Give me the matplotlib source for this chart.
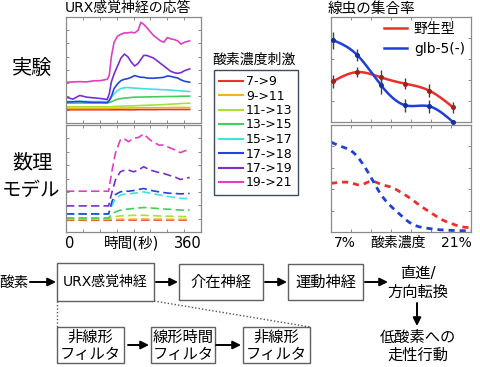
import numpy as np
import matplotlib
matplotlib.use("Agg")
import matplotlib.pyplot as plt
from matplotlib.patches import Rectangle
from matplotlib.lines import Line2D

plt.rcParams['font.family'] = ['DejaVu Sans', 'Noto Sans CJK JP']

# ---------------- data ----------------
stim_labels = ["7->9", "9->11", "11->13", "13->15", "15->17", "17->18", "17->19", "19->21"]
stim_colors = ["#e8302c", "#f2b21c", "#a6e03a", "#3fd060", "#46e0e0", "#2343dc", "#7a2ecf", "#e03ec4"]

exp_t = [0, 20, 40, 60, 80, 100, 120, 126, 132, 140, 150, 160, 170, 180, 190, 200, 210, 218,
         226, 235, 245, 255, 265, 275, 285, 295, 305, 315, 325, 335, 345, 360]
exp_red = [1.0, 1.0, 1.0, 1.0, 1.0, 1.0, 1.0, 1.0, 1.0, 1.0, 1.0, 1.0, 1.0, 1.0, 1.0, 1.0, 1.01, 1.01,
           1.01, 1.01, 1.01, 1.01, 1.01, 1.02, 1.02, 1.02, 1.02, 1.02, 1.02, 1.02, 1.02, 1.02]
exp_orange = [1.1, 1.1, 1.1, 1.1, 1.1, 1.1, 1.1, 1.1, 1.11, 1.12, 1.12, 1.13, 1.13, 1.13, 1.14, 1.14, 1.14, 1.14,
              1.15, 1.15, 1.15, 1.15, 1.15, 1.16, 1.16, 1.16, 1.16, 1.17, 1.17, 1.17, 1.17, 1.17]
exp_ygreen = [1.22, 1.22, 1.22, 1.22, 1.22, 1.22, 1.22, 1.22, 1.23, 1.25, 1.26, 1.27, 1.28, 1.29, 1.29, 1.3, 1.31, 1.32,
              1.33, 1.34, 1.35, 1.36, 1.37, 1.38, 1.39, 1.41, 1.42, 1.44, 1.45, 1.47, 1.48, 1.5]
exp_green = [1.5, 1.5, 1.51, 1.5, 1.51, 1.52, 1.52, 1.55, 1.6, 1.7, 1.8, 1.84, 1.88, 1.9, 1.93, 1.95, 1.95, 1.96,
             1.96, 1.97, 1.97, 1.98, 1.98, 1.99, 1.99, 2.0, 2.0, 2.0, 2.01, 2.02, 2.02, 2.03]
exp_cyan = [1.63, 1.62, 1.64, 1.63, 1.62, 1.62, 1.62, 1.7, 1.95, 2.2, 2.45, 2.6, 2.66, 2.68, 2.65, 2.63, 2.62, 2.6,
            2.58, 2.58, 2.56, 2.55, 2.54, 2.52, 2.51, 2.5, 2.48, 2.46, 2.44, 2.42, 2.4, 2.38]
exp_blue = [1.58, 1.6, 1.62, 1.58, 1.55, 1.55, 1.53, 1.7, 2.0, 2.6, 2.95, 3.2, 3.3, 3.35, 3.45, 3.58, 3.5, 3.45,
            3.45, 3.4, 3.38, 3.38, 3.4, 3.42, 3.45, 3.55, 3.52, 3.45, 3.4, 3.25, 3.15, 3.08]
exp_purple = [1.95, 1.8, 2.08, 1.95, 1.9, 1.85, 1.78, 2.2, 3.1, 3.7, 4.3, 4.9, 5.2, 5.0, 4.6, 4.3, 4.5, 4.8,
              5.1, 5.1, 5.0, 4.9, 4.7, 4.5, 4.3, 4.1, 3.9, 3.8, 3.75, 3.8, 3.95, 4.08]
exp_magenta = [3.08, 3.1, 3.12, 3.1, 3.18, 3.2, 3.3, 3.6, 5.0, 6.1, 6.55, 6.7, 6.8, 6.8, 6.85, 6.8, 7.0, 7.6,
               7.45, 7.2, 6.9, 6.6, 6.4, 6.2, 6.1, 6.45, 6.35, 6.3, 6.2, 5.95, 6.1, 6.2]

model_t = [0, 124, 134, 144, 158, 168, 182, 197, 212, 226, 245, 270, 284, 299, 318, 333, 347, 360]
mod_red = [0.88, 0.88, 0.89, 0.9, 0.9, 0.9, 0.9, 0.9, 0.9, 0.9, 0.9, 0.9, 0.9, 0.9, 0.9, 0.9, 0.9, 0.9]
mod_orange = [0.93, 0.93, 0.94, 0.95, 0.95, 0.96, 0.96, 0.96, 0.96, 0.97, 0.96, 0.96, 0.96, 0.95, 0.95, 0.95, 0.95, 0.95]
mod_ygreen = [0.98, 0.98, 1.1, 1.16, 1.2, 1.22, 1.23, 1.24, 1.25, 1.25, 1.23, 1.2, 1.19, 1.18, 1.17, 1.16, 1.15, 1.15]
mod_green = [1.05, 1.05, 1.35, 1.5, 1.63, 1.68, 1.72, 1.76, 1.8, 1.83, 1.8, 1.75, 1.72, 1.7, 1.67, 1.64, 1.63, 1.63]
mod_cyan = [1.35, 1.35, 2.0, 2.5, 2.75, 2.82, 2.85, 2.9, 2.95, 3.0, 2.9, 2.78, 2.72, 2.65, 2.58, 2.52, 2.5, 2.5]
mod_blue = [1.35, 1.35, 2.3, 2.8, 3.0, 3.05, 3.05, 3.1, 3.18, 3.25, 3.12, 3.0, 2.95, 2.9, 2.88, 2.85, 2.87, 2.88]
mod_purple = [1.95, 1.95, 3.0, 3.9, 4.5, 4.6, 4.63, 4.5, 4.65, 4.88, 4.63, 4.45, 4.38, 4.25, 4.1, 3.93, 4.0, 4.08]
mod_magenta = [3.05, 3.05, 4.6, 5.9, 6.88, 7.0, 6.75, 7.0, 7.08, 7.33, 6.88, 6.5, 6.5, 6.33, 6.13, 5.93, 6.08, 6.18]

o2_x = [7.2, 9.6, 12.0, 14.4, 16.8, 19.2]
wt_y = [0.387, 0.475, 0.425, 0.365, 0.30, 0.14]
wt_err = [0.06, 0.05, 0.07, 0.05, 0.06, 0.05]
glb_y = [0.78, 0.64, 0.35, 0.16, 0.15, 0.0]
glb_err = [0.08, 0.06, 0.08, 0.06, 0.06, 0.02]

o2_model_x = [7, 8, 9, 10, 11, 12, 13, 14, 15, 16, 17, 18, 19, 20, 21]
wt_model = [0.455, 0.465, 0.46, 0.44, 0.475, 0.445, 0.42, 0.37, 0.31, 0.24, 0.18, 0.12, 0.08, 0.05, 0.04]
glb_model = [0.84, 0.80, 0.76, 0.66, 0.51, 0.35, 0.24, 0.155, 0.08, 0.045, 0.03, 0.02, 0.015, 0.012, 0.012]

exp_series = [exp_red, exp_orange, exp_ygreen, exp_green, exp_cyan, exp_blue, exp_purple, exp_magenta]
mod_series = [mod_red, mod_orange, mod_ygreen, mod_green, mod_cyan, mod_blue, mod_purple, mod_magenta]


def spline(x, y, xs):
    x = np.asarray(x, float); y = np.asarray(y, float)
    n = len(x); h = np.diff(x)
    A = np.zeros((n, n)); r = np.zeros(n)
    A[0, 0] = 1; A[-1, -1] = 1
    for i in range(1, n - 1):
        A[i, i - 1] = h[i - 1]; A[i, i] = 2 * (h[i - 1] + h[i]); A[i, i + 1] = h[i]
        r[i] = 3 * ((y[i + 1] - y[i]) / h[i] - (y[i] - y[i - 1]) / h[i - 1])
    c = np.linalg.solve(A, r)
    b = (y[1:] - y[:-1]) / h - h * (2 * c[:-1] + c[1:]) / 3
    d = (c[1:] - c[:-1]) / (3 * h)
    idx = np.clip(np.searchsorted(x, xs) - 1, 0, n - 2)
    dx = xs - x[idx]
    return y[idx] + b[idx] * dx + c[idx] * dx ** 2 + d[idx] * dx ** 3


W, H = 480, 367
fig = plt.figure(figsize=(W / 100, H / 100), dpi=100)


def add_ax(x0, y0, x1, y1):
    return fig.add_axes([x0 / W, 1 - y1 / H, (x1 - x0) / W, (y1 - y0) / H])


def T(x, y, s, **kw):
    kw.setdefault('ha', 'center'); kw.setdefault('va', 'center')
    fig.text(x / W, 1 - y / H, s, **kw)


FRAME = '#8a8a8a'


def style(ax):
    for sp in ax.spines.values():
        sp.set_color(FRAME); sp.set_linewidth(0.9)
    ax.tick_params(direction='in', length=2.5, width=0.7, color=FRAME,
                   top=True, right=True, labelbottom=False, labelleft=False)


XMAX = 393
ax1 = add_ax(66, 17, 201, 123)
ax2 = add_ax(66, 125, 201, 232)
for ax in (ax1, ax2):
    ax.set_xlim(0, XMAX); ax.set_ylim(0, 8)
    ax.set_xticks(np.linspace(0, XMAX, 9)); ax.set_yticks(range(0, 9))
    style(ax)

handles = []
for ys, c, lab in zip(exp_series, stim_colors, stim_labels):
    ax1.plot(exp_t, ys, color=c, lw=1.2)
    handles.append(Line2D([], [], color=c, lw=1.5, label=lab))
for ys, c in zip(mod_series, stim_colors):
    ax2.plot(model_t, ys, color=c, lw=1.2, ls=(0, (5, 2.5)))

ax3 = add_ax(331, 17, 471, 122)
ax4 = add_ax(331, 125, 471, 232)
for ax in (ax3, ax4):
    ax.set_xlim(7, 21); ax.set_ylim(0, 1)
    ax.set_xticks(np.arange(7, 22, 2)); ax.set_yticks(np.arange(0, 1.01, 0.2))
    style(ax)

xs = np.linspace(o2_x[0], o2_x[-1], 200)
ax3.plot(xs, spline(o2_x, wt_y, xs), color='#e8302c', lw=1.8, zorder=3)
ax3.plot(xs, spline(o2_x, glb_y, xs), color='#1f3fd8', lw=1.8, zorder=3)
ax3.errorbar(o2_x, wt_y, yerr=wt_err, fmt='o', ms=2.6, color='#a02020', ecolor='#404040', elinewidth=1, zorder=4, clip_on=False)
ax3.errorbar(o2_x, glb_y, yerr=glb_err, fmt='o', ms=2.6, color='#1530a0', ecolor='#404040', elinewidth=1, zorder=4, clip_on=False)
leg_r = [Line2D([], [], color='#e8302c', lw=1.8, label='野生型'),
         Line2D([], [], color='#1f3fd8', lw=1.8, label='glb-5(-)')]
fig.legend(handles=leg_r, loc='upper left', bbox_to_anchor=(384 / W, 1 - 22 / H),
           frameon=False, fontsize=10, handlelength=1.65, handletextpad=0.5,
           borderpad=0, borderaxespad=0, labelspacing=0.4)

xm = np.linspace(7, 21, 300)
ax4.plot(xm, spline(o2_model_x, wt_model, xm), color='#e8302c', lw=2.0, ls=(0, (2.2, 1.8)))
ax4.plot(xm, spline(o2_model_x, glb_model, xm), color='#1f3fd8', lw=2.0, ls=(0, (2.2, 1.8)))

# left legend
fig.legend(handles=handles, loc='upper left', bbox_to_anchor=(214 / W, 1 - 70 / H),
           fontsize=9, handlelength=1.9, handletextpad=0.25, borderpad=0.4,
           borderaxespad=0, labelspacing=0.12, fancybox=False,
           edgecolor='#3e4a60', framealpha=1)
T(254, 60, '酸素濃度刺激', fontsize=10)

# titles / labels
T(128, 8, 'URX感覚神経の応答', fontsize=10)
T(371, 8, '線虫の集合率', fontsize=10.5)
T(32, 68, '実験', fontsize=14.5)
T(32, 163, '数理', fontsize=14.5)
T(31, 190, 'モデル', fontsize=14)
T(70, 243, '0', fontsize=10.5)
T(132, 243, '時間(秒)', fontsize=10.5)
T(188, 243, '360', fontsize=10.5)
T(345, 243, '7%', fontsize=10)
T(398, 243, '酸素濃度', fontsize=10)
T(456, 243, '21%', fontsize=10)

# diagram
axd = fig.add_axes([0, 0, 1, 1], zorder=5)
axd.set_xlim(0, W); axd.set_ylim(H, 0); axd.axis('off'); axd.patch.set_alpha(0)

BOX = '#606060'
def box(x0, y0, x1, y1):
    axd.add_patch(Rectangle((x0, y0), x1 - x0, y1 - y0, fill=False, ec=BOX, lw=1.0))

def arrow(x0, y0, x1, y1):
    axd.annotate('', xy=(x1, y1), xytext=(x0, y0),
                 arrowprops=dict(arrowstyle='-|>', color='k', lw=1.4, mutation_scale=12,
                                 shrinkA=0, shrinkB=0))

FS = 11
axd.text(14, 282, '酸素', fontsize=10.5, ha='center', va='center')
arrow(30, 282, 56, 282)
box(57, 263, 154, 301); axd.text(105.5, 282, 'URX感覚神経', fontsize=10, ha='center', va='center')
arrow(156, 282, 178, 282)
box(179, 264, 263, 300); axd.text(221, 282, '介在神経', fontsize=FS, ha='center', va='center')
arrow(265, 282, 287, 282)
box(288, 264, 363, 300); axd.text(325.5, 282, '運動神経', fontsize=FS, ha='center', va='center')
arrow(365, 282, 388, 282)
axd.text(418, 273, '直進/', fontsize=FS, ha='center', va='center')
axd.text(418, 292, '方向転換', fontsize=FS, ha='center', va='center')
arrow(417, 303, 417, 326)
axd.text(418, 337, '低酸素への', fontsize=FS, ha='center', va='center')
axd.text(418, 355, '走性行動', fontsize=FS, ha='center', va='center')

axd.plot([57, 57], [301, 327], color='#555555', lw=1.0, ls=(0, (1, 1.5)))
axd.plot([154, 310], [301, 327], color='#555555', lw=1.0, ls=(0, (1, 1.5)))

box(57, 327, 124, 363)
axd.text(90.5, 337, '非線形', fontsize=FS, ha='center', va='center')
axd.text(90.5, 355, 'フィルタ', fontsize=FS, ha='center', va='center')
arrow(128, 345, 149, 345)
box(151, 327, 215, 363)
axd.text(183, 337, '線形時間', fontsize=FS, ha='center', va='center')
axd.text(183, 355, 'フィルタ', fontsize=FS, ha='center', va='center')
arrow(216, 345, 241, 345)
box(243, 327, 310, 363)
axd.text(276.5, 337, '非線形', fontsize=FS, ha='center', va='center')
axd.text(276.5, 355, 'フィルタ', fontsize=FS, ha='center', va='center')

fig.savefig('out.png', dpi=100)
